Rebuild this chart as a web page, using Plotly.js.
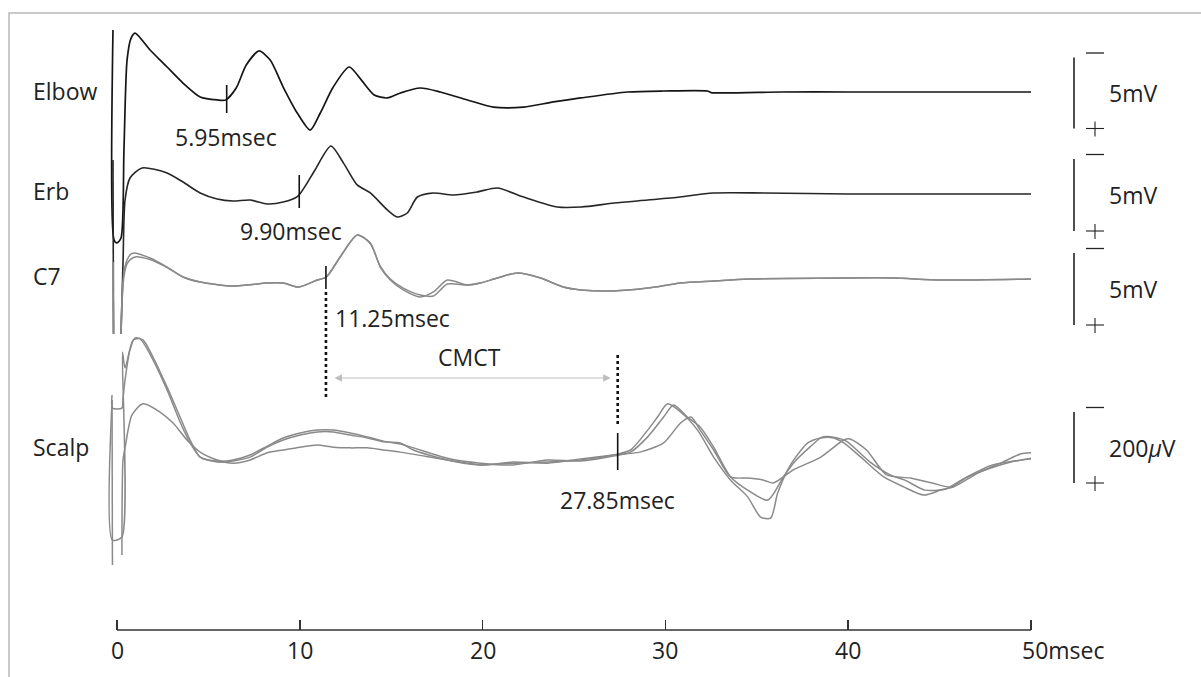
<!DOCTYPE html>
<html><head><meta charset="utf-8">
<script src="https://cdn.plot.ly/plotly-3.0.1.min.js"></script>
<style>html,body{margin:0;padding:0;background:#fff;}#chart{width:1201px;height:677px;}</style>
</head><body><div id="chart"></div>
<script>
// ---------------- data (time in msec, amplitudes: upward deflection positive) ----------------
const channelNames = ['Elbow', 'Erb', 'C7', 'Scalp'];
const scaleLabels = ['5mV', '5mV', '5mV', '200<i>μ</i>V'];
const scaleValues = [5, 5, 5, 200];          // mV, mV, mV, µV
const xTickVals = [0, 10, 20, 30, 40, 50];
const xTickText = ['0', '10', '20', '30', '40', '50msec'];

const elbowT = [-0.22,-0.16,0.0,0.22,0.38,0.55,0.77,0.99,1.81,2.74,3.61,4.55,5.48,5.95,6.52,7.07,7.77,8.38,9.09,9.86,10.57,11.12,11.83,12.70,13.36,14.07,14.79,15.50,16.59,17.69,19.17,20.59,22.24,23.87,25.36,27.93,29.90,32.30,32.50,36.30,40,45,50];
const elbowMV = [4.37,-10.42,-10.63,-10.28,-4.08,2.25,3.80,4.15,2.96,1.76,0.63,-0.35,-0.56,-0.56,0.28,1.90,2.89,2.25,0.35,-1.48,-2.68,-1.48,0.35,1.76,0.85,-0.21,-0.42,-0.07,0.28,0,-0.56,-1.06,-1.06,-0.70,-0.42,0,0.07,0.07,-0.04,0,0,0,0];

const erbT = [-0.22,-0.19,-0.1,0.22,0.33,0.44,0.71,1.37,2.74,3.61,4.55,5.48,6.35,7.28,8.22,9.09,9.90,10.80,11.70,12.40,13.14,13.86,14.79,15.33,15.88,16.43,17.30,18.40,19.70,20.81,22.24,24.10,25.40,27.20,29.03,30.80,32.60,35.40,40,45,50];
const erbMV = [2.36,-9.72,null,-9.72,-4.72,-0.42,1.11,1.81,1.46,0.83,0.07,-0.35,-0.49,-0.42,-0.69,-0.56,-0.14,1.60,3.33,2.13,0.63,0.07,-1.11,-1.60,-1.32,-0.21,0.07,-0.07,0.14,0.42,-0.21,-0.90,-0.90,-0.63,-0.42,-0.21,0.07,0.07,0,0,0];

const c7T = [-0.22,-0.19,-0.1,0.22,0.27,0.38,0.55,0.77,0.99,1.37,1.81,2.74,3.61,4.55,6.35,8.22,9.09,9.91,10.95,11.45,12.21,13.14,13.86,14.40,14.95,15.66,16.59,17.31,18.07,19.17,19.88,20.81,21.91,23.17,24.42,25.36,27.16,29.03,30.83,32.64,34.50,39.76,42.50,45.07,50];
const c7aMV = [1.18,-3.82,null,-3.82,-1.46,0.49,1.32,1.74,1.81,1.67,1.46,0.83,0.14,-0.21,-0.49,-0.28,-0.28,-0.56,-0.07,0.14,1.53,3.06,2.50,0.83,-0.07,-0.76,-1.25,-0.90,-0.07,-0.42,-0.28,0.07,0.42,0.07,-0.56,-0.76,-0.83,-0.63,-0.28,-0.14,0,0.07,0.07,-0.07,0];
const c7bMV = [1.18,-3.82,null,-3.82,-1.80,0.20,1.04,1.40,1.53,1.50,1.35,0.80,0.14,-0.21,-0.49,-0.28,-0.28,-0.56,-0.07,0.14,1.53,3.06,2.45,0.90,0.00,-0.63,-1.11,-1.18,-0.35,-0.42,-0.28,0.07,0.42,0.07,-0.56,-0.76,-0.83,-0.63,-0.28,-0.14,0,0.07,0.07,-0.07,0];

const scalpAT = [-0.27,-0.25,0.27,0.33,0.44,0.71,0.99,1.42,1.97,2.74,3.45,4.0,4.55,5.48,6.35,7.28,8.22,9.09,10.02,10.95,11.83,12.76,13.69,14.57,15.50,16.21,18.07,19.88,21.69,23.55,25.36,27.16,28.09,29.03,29.57,30.12,30.83,31.76,32.64,33.57,34.50,35.21,35.76,36.14,36.69,37.02,37.79,38.50,39.21,39.76,40.69,41.95,43.04,44.14,45.07,45.78,47.09,48.34,49.43,50.0];
const scalpAUV = [155,118,118,146,197,282,316,310,262,177,93,28,-20,-34,-31,-20,8,28,42,51,51,42,34,23,20,0,-28,-42,-37,-34,-28,-14,0,56,93,130,107,56,-20,-85,-132,-189,-192,-121,-56,-28,20,34,34,20,-20,-76,-104,-127,-113,-104,-65,-37,-11,-8];

const scalpBT = [-0.27,-0.25,0.27,0.30,0.44,0.88,1.26,1.97,2.74,3.45,4.0,4.55,5.48,6.35,7.28,8.22,9.09,10.02,10.95,11.83,12.76,13.69,14.57,15.50,16.21,18.07,19.88,21.69,23.55,25.36,27.16,28.09,29.03,29.9,30.45,31.2,31.9,32.64,33.57,34.5,35.6,36.45,37.0,37.9,38.6,39.4,39.9,41.2,42.3,43.1,44.2,45.3,46.4,47.8,48.9,50.0];
const scalpBUV = [141,-254,-245,276,231,310,313,254,169,79,20,-20,-31,-28,-14,11,34,48,56,56,48,37,25,17,6,-23,-37,-42,-28,-31,-17,-6,37,93,127,93,65,8,-76,-113,-141,-76,-37,8,37,34,25,-34,-70,-85,-113,-110,-79,-51,-34,-23];

const scalpCT = [-0.27,-0.25,-0.1,0.27,0.33,0.44,0.82,1.42,2.35,3.07,3.83,4.55,5.48,6.35,7.28,8.22,9.09,10.02,10.95,11.83,12.76,13.69,14.57,15.50,18.07,19.88,21.69,23.55,25.36,27.16,28.6,29.9,30.83,31.4,31.9,32.64,33.57,34.5,35.38,35.9,37.0,38.5,39.76,40.1,41.0,42.1,43.4,44.6,45.6,46.5,47.9,50.0];
const scalpCUV = [141,-324,null,-296,-28,6,99,130,107,76,28,-6,-28,-37,-28,-8,0,8,14,8,6,6,0,-6,-28,-42,-34,-37,-25,-14,-6,20,76,93,56,0,-76,-79,-85,-93,-56,-20,28,31,0,-70,-79,-93,-104,-76,-42,-25];

// latency markers (position) and their printed labels
const markerT = [6.00, 9.97, 11.43, 27.39];
const markerLabels = ['5.95msec', '9.90msec', '11.25msec', '27.85msec'];
const cmctLabel = 'CMCT';

// ---------------- layout geometry ----------------
const W = 1201, H = 677;
const X0PX = 117, X50PX = 1031, PXMS = (X50PX - X0PX) / 50;
const FONT = 'Open Sans, Noto Sans, DejaVu Sans, sans-serif';
const TXT = '#222';
const py = v => 1 - v / H;     // pixel row -> paper
const px = v => v / W;         // pixel col -> paper

// per channel: baseline pixel row, pixels per unit, scale bar centre row, label row
const geo = [
  {ax: 'y',  b: 92,  s: 14.2,  barC: 93,    nameY: 91},
  {ax: 'y2', b: 194, s: 14.4,  barC: 195,   nameY: 191},
  {ax: 'y3', b: 279, s: 14.4,  barC: 289,   nameY: 276},
  {ax: 'y4', b: 450, s: 0.355, barC: 447.5, nameY: 447}
];

const BLACK = '#151515', DARK = '#262626', GREY = '#8a8a8a';
function tr(x, y, ax, color, w) {
  return {x: x, y: y, yaxis: ax, xaxis: 'x', type: 'scatter', mode: 'lines',
    line: {color: color, width: w, shape: 'spline', smoothing: 0.7},
    hoverinfo: 'skip', showlegend: false};
}
const data = [
  tr(scalpCT, scalpCUV, 'y4', GREY, 1.5),
  tr(scalpBT, scalpBUV, 'y4', GREY, 1.5),
  tr(scalpAT, scalpAUV, 'y4', GREY, 1.5),
  tr(c7T, c7bMV, 'y3', GREY, 1.5),
  tr(c7T, c7aMV, 'y3', GREY, 1.5),
  tr(erbT, erbMV, 'y2', DARK, 1.6),
  tr(elbowT, elbowMV, 'y', BLACK, 1.7)
];

const layout = {
  width: W, height: H,
  margin: {l: 0, r: 0, t: 0, b: 0, pad: 0},
  paper_bgcolor: '#fff', plot_bgcolor: 'rgba(0,0,0,0)',
  showlegend: false,
  font: {family: FONT, size: 23, color: TXT},
  xaxis: {
    domain: [0, 1], range: [-X0PX / PXMS, (W - X0PX) / PXMS],
    anchor: 'free', position: py(630),
    showgrid: false, zeroline: false, showline: false,
    ticks: 'inside', ticklen: 10, tickwidth: 1.5, tickcolor: '#333',
    tickvals: xTickVals, showticklabels: false, fixedrange: true
  },
  shapes: [], annotations: []
};
geo.forEach((g, i) => {
  const name = i === 0 ? 'yaxis' : 'yaxis' + (i + 1);
  layout[name] = {
    domain: [0, 1], range: [(g.b - H) / g.s, g.b / g.s],
    visible: false, showgrid: false, zeroline: false, fixedrange: true
  };
  if (i > 0) layout[name].overlaying = 'y';
});

// frame
layout.shapes.push({type: 'rect', xref: 'paper', yref: 'paper', x0: px(9), x1: 1.05, y0: -0.05, y1: py(13),
  line: {color: '#b8b8b8', width: 1.5}, layer: 'below'});
// x axis line (0 to 50 msec)
layout.shapes.push({type: 'line', xref: 'x', yref: 'paper', x0: xTickVals[0], x1: xTickVals[xTickVals.length - 1],
  y0: py(630), y1: py(630), line: {color: '#333', width: 1.5}});
// x tick labels
xTickVals.forEach((v, i) => {
  const last = i === xTickVals.length - 1;
  layout.annotations.push({xref: 'x', yref: 'paper', x: v, xshift: last ? -11 : 0, y: py(650),
    xanchor: last ? 'left' : 'center', yanchor: 'middle', text: xTickText[i], showarrow: false,
    font: {family: FONT, size: 23, color: TXT}});
});

// scale bars
geo.forEach((g, i) => {
  const half = scaleValues[i] / 2;
  const c = (g.b - g.barC) / g.s;
  layout.shapes.push({type: 'line', xref: 'paper', yref: g.ax, x0: px(1074), x1: px(1074),
    y0: c - half, y1: c + half, line: {color: '#222', width: 1.6}});
  const top = g.barC - half * g.s, bot = g.barC + half * g.s;
  layout.shapes.push({type: 'line', xref: 'paper', yref: 'paper', x0: px(1086), x1: px(1104),
    y0: py(top - 4.5), y1: py(top - 4.5), line: {color: '#222', width: 1.3}});
  layout.shapes.push({type: 'line', xref: 'paper', yref: 'paper', x0: px(1086), x1: px(1104),
    y0: py(bot), y1: py(bot), line: {color: '#222', width: 1.1}});
  layout.shapes.push({type: 'line', xref: 'paper', yref: 'paper', x0: px(1095), x1: px(1095),
    y0: py(bot - 7), y1: py(bot + 8), line: {color: '#222', width: 1.1}});
  layout.annotations.push({xref: 'paper', yref: 'paper', x: px(1107), y: py(g.barC), xanchor: 'left', yanchor: 'middle',
    text: scaleLabels[i], showarrow: false, font: {family: FONT, size: 23, color: TXT}});
  layout.annotations.push({xref: 'paper', yref: 'paper', x: px(31), y: py(g.nameY), xanchor: 'left', yanchor: 'middle',
    text: channelNames[i], showarrow: false, font: {family: FONT, size: 23, color: TXT}});
});

// latency markers: solid tick, optional dotted extension, label
const solidRows = [[85, 113], [175, 208], [266, 289], [433, 470]];
const dotRows = [null, null, [292, 398], [355, 424]];
const labelPos = [[226, 137, 'center'], [291, 231, 'center'], [333, 318, 'left'], [617, 500, 'center']];
markerT.forEach((t, i) => {
  layout.shapes.push({type: 'line', xref: 'x', yref: 'paper', x0: t, x1: t,
    y0: py(solidRows[i][0]), y1: py(solidRows[i][1]), line: {color: '#111', width: 1.6}});
  if (dotRows[i]) layout.shapes.push({type: 'line', xref: 'x', yref: 'paper', x0: t, x1: t,
    y0: py(dotRows[i][0]), y1: py(dotRows[i][1]), line: {color: '#111', width: 2.6, dash: 'dot'}});
  const lp = labelPos[i];
  layout.annotations.push({xref: 'paper', yref: 'paper', x: px(lp[0]), y: py(lp[1]), xanchor: lp[2], yanchor: 'middle',
    text: markerLabels[i], showarrow: false, font: {family: FONT, size: 23, color: TXT}});
});

// CMCT double arrow between the C7 and scalp onsets
layout.annotations.push({xref: 'x', yref: 'paper', x: markerT[3], y: py(378), text: '',
  showarrow: true, axref: 'pixel', ayref: 'pixel', ax: -(markerT[3] - markerT[2]) * PXMS, ay: 0,
  arrowside: 'end+start', arrowhead: 2, startarrowhead: 2, arrowsize: 1.5, startarrowsize: 1.5,
  arrowwidth: 1, arrowcolor: '#bdbdbd', standoff: 7, startstandoff: 7});
layout.annotations.push({xref: 'paper', yref: 'paper', x: px(469), y: py(357), xanchor: 'center', yanchor: 'middle',
  text: cmctLabel, showarrow: false, font: {family: FONT, size: 23, color: TXT}});

Plotly.newPlot('chart', data, layout, {displayModeBar: false, staticPlot: true});
</script></body></html>
